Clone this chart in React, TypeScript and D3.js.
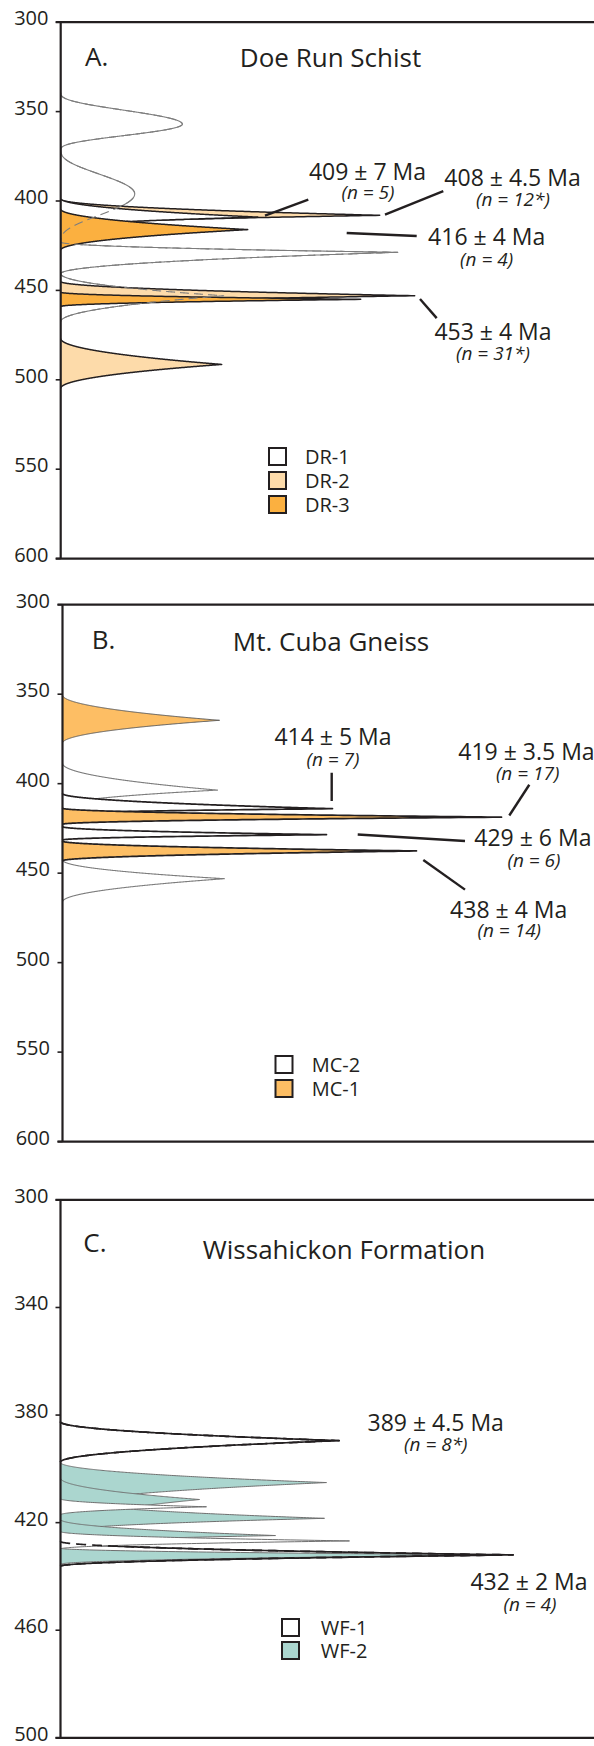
import React from "react";
import * as d3 from "d3";

// Lobe = [peak age (Ma), relative probability, half-width above peak (Ma), half-width below peak (Ma)]
type Lobe = [number, number, number, number];

// ---------- Panel A: Doe Run Schist ----------
const A_TICKS = [300, 350, 400, 450, 500, 550, 600];
const A_OTHER_BROAD: Lobe[] = [
  [357, 121.6, 17.6, 14.5],
  [396, 74, 25, 27],
];
const A_OTHER: Lobe[] = [
  [428.7, 337, 5.7, 12],
  [453, 163, 12.4, 14.5],
];
const DR1: Lobe[] = [[409, 197, 10.4, 6]];
const DR2: Lobe[] = [
  [408, 319, 9, 6],
  [453, 354, 8, 6],
  [491.4, 161, 14.5, 13.4],
];
const DR3: Lobe[] = [
  [416, 187, 11.5, 11.5],
  [455, 300, 4, 4],
];
const A_NAMES = ["DR-1", "DR-2", "DR-3"];
const A_AGES = ["409 ± 7 Ma", "408 ± 4.5 Ma", "416 ± 4 Ma", "453 ± 4 Ma"];
const A_N = ["(n = 5)", "(n = 12*)", "(n = 4)", "(n = 31*)"];

// ---------- Panel B: Mt. Cuba Gneiss ----------
const B_TICKS = [300, 350, 400, 450, 500, 550, 600];
const B_OTHER: Lobe[] = [
  [403.6, 155, 15, 9],
  [453.1, 162, 10.5, 13],
];
const MC1_MINOR: Lobe[] = [[364.6, 157, 14.2, 12.8]];
const MC1: Lobe[] = [
  [418.7, 439, 5, 4],
  [437.6, 354, 5.5, 5.5],
];
const MC2: Lobe[] = [
  [414, 270, 8.5, 3],
  [428.5, 264, 4.5, 3],
];
const B_NAMES = ["MC-2", "MC-1"];
const B_AGES = ["414 ± 5 Ma", "419 ± 3.5 Ma", "429 ± 6 Ma", "438 ± 4 Ma"];
const B_N = ["(n = 7)", "(n = 17)", "(n = 6)", "(n = 14)"];

// ---------- Panel C: Wissahickon Formation ----------
const C_TICKS = [300, 340, 380, 420, 460, 500];
const WF1: Lobe[] = [
  [389.5, 278.6, 7, 8],
  [432, 452.6, 5, 4.2],
];
const WF2: Lobe[] = [
  [405.1, 266, 7.5, 9],
  [411.4, 139, 8, 10],
  [418.4, 264, 7, 5],
  [424.8, 215, 6, 3],
  [432, 440, 2.5, 3.5],
];
const C_OTHER: Lobe[] = [
  [414.1, 146, 3, 3],
  [426.8, 289, 3.5, 3],
];
const C_NAMES = ["WF-1", "WF-2"];
const C_AGES = ["389 ± 4.5 Ma", "432 ± 2 Ma"];
const C_N = ["(n = 8*)", "(n = 4)"];

// ---------- styling ----------
const INK = "#231f20";
const GREY = "#7d7d7d";
const ORANGE = "#FBB040";
const ORANGE_LT = "#FDBE64";
const PEACH = "#FDDBAA";
const TEAL = "#ABD6CF";
const FONT = "'Open Sans', 'Noto Sans', sans-serif";

// kernel shapes: "sharp" = cusp-topped lobe, "smooth" = rounded lobe
function kern(age: number, l: Lobe, smooth: boolean) {
  const d = age - l[0];
  const u = d < 0 ? -d / l[2] : d / l[3];
  if (u >= 1) return 0;
  return smooth ? l[1] * Math.pow(1 - u * u, 3) : l[1] * Math.pow(1 - u, 2);
}
function profile(lobes: Lobe[], smooth: boolean): [number, number][] {
  const lo = d3.min(lobes, (l) => l[0] - l[2]) as number;
  const hi = d3.max(lobes, (l) => l[0] + l[3]) as number;
  const ages = d3
    .range(lo, hi, 0.04)
    .concat(lobes.map((l) => l[0]), [hi])
    .sort((a, b) => a - b);
  return ages.map((a) => [a, d3.sum(lobes, (l) => kern(a, l, smooth))]);
}

type LayerDef = {
  lobes: Lobe[];
  each?: boolean;
  smooth?: boolean;
  fill: string;
  stroke: string;
  sw: number;
  dash?: string;
};

function Layer({ def, x, y }: { def: LayerDef; x: any; y: any }) {
  const groups = def.each ? def.lobes.map((l) => [l]) : [def.lobes];
  const area = d3
    .area<[number, number]>()
    .y((d) => y(d[0]))
    .x0(x(0))
    .x1((d) => x(d[1]));
  const line = d3
    .line<[number, number]>()
    .y((d) => y(d[0]))
    .x((d) => x(d[1]));
  return (
    <g>
      {groups.map((g, i) => {
        const p = profile(g, !!def.smooth);
        return (
          <g key={i}>
            {def.fill !== "none" && <path d={area(p) || ""} fill={def.fill} stroke="none" />}
            <path
              d={line(p) || ""}
              fill="none"
              stroke={def.stroke}
              strokeWidth={def.sw}
              strokeDasharray={def.dash}
              strokeLinejoin="round"
            />
          </g>
        );
      })}
    </g>
  );
}

type PanelDef = {
  letter: string;
  title: string;
  domain: [number, number];
  top: number;
  bottom: number;
  axisX: number;
  ticks: number[];
  tickX: number;
  letterPos: [number, number];
  titlePos: [number, number];
  layers: LayerDef[];
  legend: { x: number; y0: number; dy: number; labelX: number; names: string[]; fills: string[] };
  labels: { text: string; n: string; at: [number, number]; nAt: [number, number]; anchor?: string }[];
  leaders: [number, number, number, number][];
};

const PANELS: PanelDef[] = [
  {
    letter: "A.",
    title: "Doe Run Schist",
    domain: [300, 600],
    top: 22.2,
    bottom: 558.6,
    axisX: 60.7,
    ticks: A_TICKS,
    tickX: 48.5,
    letterPos: [85, 66],
    titlePos: [330.5, 67],
    layers: [
      { lobes: A_OTHER_BROAD, smooth: true, fill: "none", stroke: GREY, sw: 1.1 },
      { lobes: A_OTHER, fill: "none", stroke: GREY, sw: 1.1 },
      { lobes: DR2, each: true, fill: PEACH, stroke: INK, sw: 1.5 },
      { lobes: DR1, each: true, fill: "#ffffff", stroke: INK, sw: 1.5 },
      { lobes: DR3, each: true, fill: ORANGE, stroke: INK, sw: 1.5 },
      { lobes: A_OTHER_BROAD, smooth: true, fill: "none", stroke: GREY, sw: 1.1, dash: "9 5" },
      { lobes: A_OTHER, fill: "none", stroke: GREY, sw: 1.1, dash: "9 5" },
    ],
    legend: { x: 269, y0: 448, dy: 24, labelX: 305, names: A_NAMES, fills: ["#ffffff", PEACH, ORANGE] },
    labels: [
      { text: A_AGES[0], n: A_N[0], at: [306.8, 388.3], nAt: [307.3, 398.8] },
      { text: A_AGES[1], n: A_N[1], at: [451.8, 391.4], nAt: [452.3, 402.6] },
      { text: A_AGES[2], n: A_N[2], at: [426, 424.4], nAt: [425.9, 436.2] },
      { text: A_AGES[3], n: A_N[3], at: [432.3, 477.7], nAt: [432.3, 488.8] },
    ],
    leaders: [
      [204.3, 408.2, 247.6, 399.3],
      [324.3, 407.6, 382.6, 394.5],
      [286, 417.9, 356, 419.6],
      [359.3, 454.8, 376, 465.5],
    ],
  },
  {
    letter: "B.",
    title: "Mt. Cuba Gneiss",
    domain: [300, 600],
    top: 604.7,
    bottom: 1141.6,
    axisX: 62.5,
    ticks: B_TICKS,
    tickX: 50,
    letterPos: [91.7, 649],
    titlePos: [331, 651],
    layers: [
      { lobes: B_OTHER, fill: "none", stroke: GREY, sw: 1.1 },
      { lobes: MC1_MINOR, each: true, fill: ORANGE_LT, stroke: "#555555", sw: 1 },
      { lobes: MC2, each: true, fill: "#ffffff", stroke: INK, sw: 1.7 },
      { lobes: MC1, each: true, fill: ORANGE_LT, stroke: INK, sw: 1.7 },
    ],
    legend: { x: 275.5, y0: 1056, dy: 24, labelX: 311.7, names: B_NAMES, fills: ["#ffffff", ORANGE_LT] },
    labels: [
      { text: B_AGES[0], n: B_N[0], at: [270.5, 378.4], nAt: [270.5, 390.4] },
      { text: B_AGES[1], n: B_N[1], at: [395.8, 386.8], nAt: [465.1, 398.2], anchor: "start" },
      { text: B_AGES[2], n: B_N[2], at: [411.8, 434.8], nAt: [471.5, 446.3], anchor: "start" },
      { text: B_AGES[3], n: B_N[3], at: [446.2, 475], nAt: [446.8, 485.9] },
    ],
    leaders: [
      [269.2, 393.9, 269.2, 409.7],
      [466.8, 400.6, 446.8, 417.8],
      [295.2, 428.4, 402.5, 432],
      [360.8, 442.6, 402.5, 459.2],
    ],
  },
  {
    letter: "C.",
    title: "Wissahickon Formation",
    domain: [300, 500],
    top: 1199.9,
    bottom: 1737.8,
    axisX: 60.5,
    ticks: C_TICKS,
    tickX: 48.5,
    letterPos: [83.3, 1252],
    titlePos: [344, 1259],
    layers: [
      { lobes: WF2, each: true, fill: TEAL, stroke: "#6f6f6f", sw: 1 },
      { lobes: WF1, each: true, fill: "none", stroke: INK, sw: 1.7 },
      { lobes: C_OTHER, each: true, fill: "#ffffff", stroke: "#6f6f6f", sw: 1 },
      { lobes: WF1, each: true, fill: "none", stroke: INK, sw: 1.7, dash: "10 6" },
    ],
    legend: { x: 282, y0: 1619, dy: 23, labelX: 320.7, names: C_NAMES, fills: ["#ffffff", TEAL] },
    labels: [
      { text: C_AGES[0], n: C_N[0], at: [375.2, 385.9], nAt: [375.3, 393.5] },
      { text: C_AGES[1], n: C_N[1], at: [468.5, 445], nAt: [469.5, 452.7] },
    ],
    leaders: [],
  },
];

function Panel({ p }: { p: PanelDef }) {
  const y = d3.scaleLinear().domain(p.domain).range([p.top, p.bottom]);
  const x = d3.scaleLinear().domain([0, 534]).range([p.axisX, p.axisX + 534]);
  const lg = p.legend;
  return (
    <g>
      {p.layers.map((l, i) => (
        <Layer key={i} def={l} x={x} y={y} />
      ))}
      {/* frame */}
      <line x1={p.axisX - 5} x2={594} y1={p.top} y2={p.top} stroke={INK} strokeWidth={2.2} />
      <line x1={p.axisX - 5} x2={594} y1={p.bottom} y2={p.bottom} stroke={INK} strokeWidth={2.2} />
      <line x1={p.axisX} x2={p.axisX} y1={p.top} y2={p.bottom} stroke={INK} strokeWidth={2.2} />
      {p.ticks.map((t) => (
        <g key={t}>
          <line x1={p.axisX - 5} x2={p.axisX} y1={y(t)} y2={y(t)} stroke={INK} strokeWidth={1.6} />
          <text x={p.tickX} y={y(t) + 3} textAnchor="end" fontSize={20} fill={INK}>
            {t}
          </text>
        </g>
      ))}
      <text x={p.letterPos[0]} y={p.letterPos[1]} fontSize={26} fill={INK}>
        {p.letter}
      </text>
      <text x={p.titlePos[0]} y={p.titlePos[1]} fontSize={26} fill={INK} textAnchor="middle">
        {p.title}
      </text>
      {p.leaders.map((l, i) => (
        <line key={i} x1={x(l[0])} y1={y(l[1])} x2={x(l[2])} y2={y(l[3])} stroke={INK} strokeWidth={2.4} />
      ))}
      {p.labels.map((l, i) => (
        <g key={i}>
          <text x={x(l.at[0])} y={y(l.at[1])} fontSize={23} fill={INK} textAnchor={l.anchor || "middle"}>
            {l.text}
          </text>
          <text x={x(l.nAt[0])} y={y(l.nAt[1])} fontSize={19} fontStyle="italic" fill={INK} textAnchor="middle">
            {l.n}
          </text>
        </g>
      ))}
      {lg.names.map((nm, i) => (
        <g key={nm}>
          <rect x={lg.x} y={lg.y0 + i * lg.dy} width={17} height={17} fill={lg.fills[i]} stroke={INK} strokeWidth={2} />
          <text x={lg.labelX} y={lg.y0 + i * lg.dy + 15.5} fontSize={20} fill={INK}>
            {nm}
          </text>
        </g>
      ))}
    </g>
  );
}

export default function App() {
  return (
    <svg
      width={594}
      height={1746}
      viewBox="0 0 594 1746"
      style={{ position: "absolute", left: 0, top: 0, background: "#fff" }}
      fontFamily={FONT}
    >
      <rect width={594} height={1746} fill="#ffffff" />
      {PANELS.map((p) => (
        <Panel key={p.letter} p={p} />
      ))}
    </svg>
  );
}
